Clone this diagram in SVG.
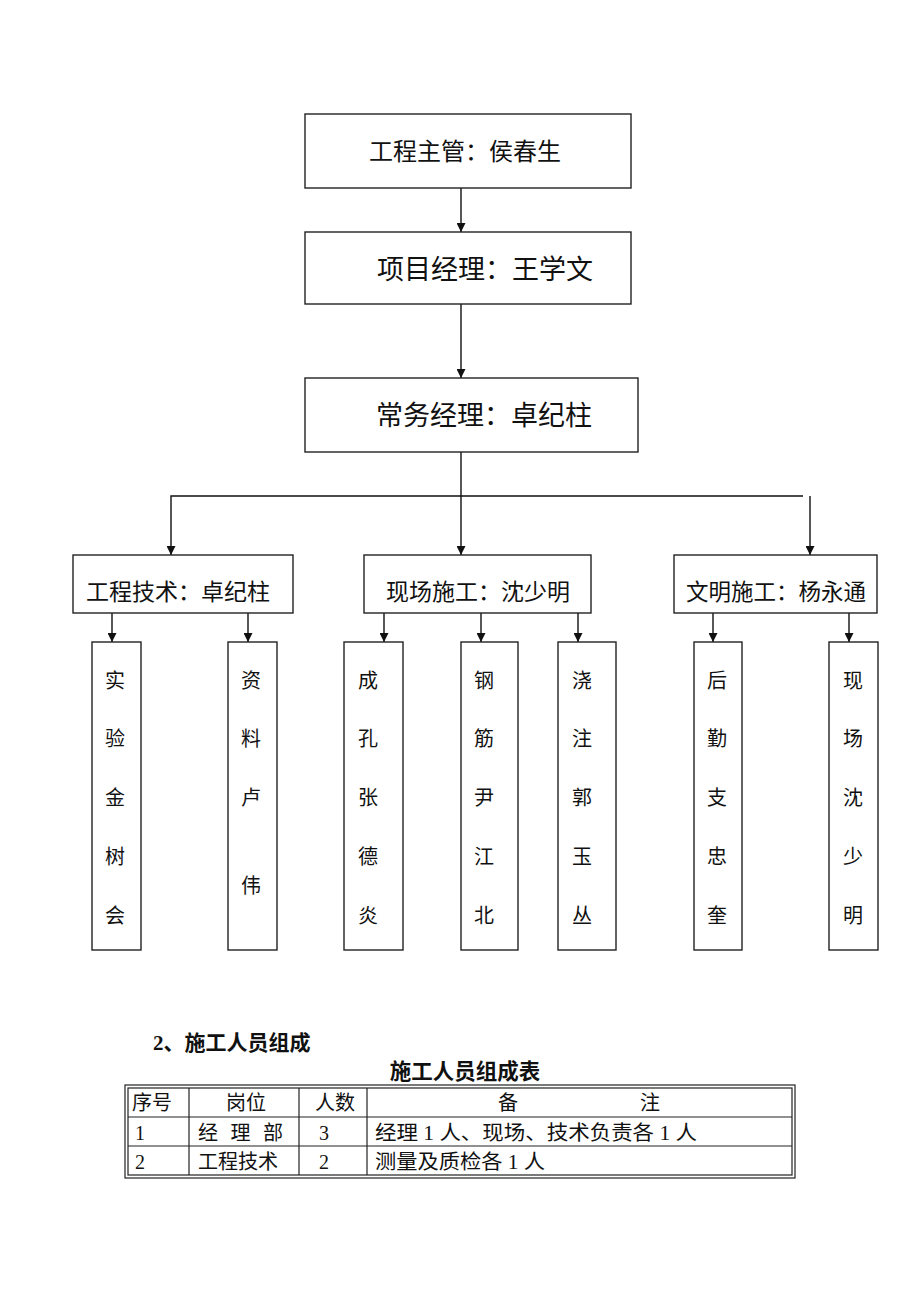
<svg xmlns="http://www.w3.org/2000/svg" width="920" height="1302" viewBox="0 0 920 1302">
<style>
.box{fill:#fff;stroke:#222;stroke-width:1.4}
.c{fill:none;stroke:#111;stroke-width:1.4}
.t{font-family:"Liberation Serif","Noto Sans CJK SC",serif;fill:#111;text-anchor:middle}
.v{font-family:"Liberation Serif","Noto Sans CJK SC",serif;fill:#111;text-anchor:middle;font-size:20px}
.tb{font-family:"Liberation Serif","Noto Sans CJK SC",serif;fill:#111;font-size:20px}
.hd{font-family:"Liberation Serif","Noto Sans CJK SC",serif;fill:#111;font-weight:bold}
.g{fill:none;stroke:#222;stroke-width:1.2}
</style>
<defs>
<marker id="ah" viewBox="0 0 10 10" refX="10" refY="5" markerWidth="10" markerHeight="9" markerUnits="userSpaceOnUse" orient="auto">
<path d="M0,0 L10,5 L0,10 z" fill="#111"/>
</marker>
</defs>
<rect width="920" height="1302" fill="#fff"/>
<g id="connectors">
<line class="c" x1="461" y1="188" x2="461" y2="232" marker-end="url(#ah)"/>
<line class="c" x1="461" y1="304" x2="461" y2="378" marker-end="url(#ah)"/>
<line class="c" x1="461" y1="452" x2="461" y2="555" marker-end="url(#ah)"/>
<polyline class="c" points="803,496 171,496 171,555" marker-end="url(#ah)"/>
<line class="c" x1="810" y1="496" x2="810" y2="555" marker-end="url(#ah)"/>
<line class="c" x1="112" y1="613" x2="112" y2="642" marker-end="url(#ah)"/>
<line class="c" x1="248" y1="613" x2="248" y2="642" marker-end="url(#ah)"/>
<line class="c" x1="384" y1="613" x2="384" y2="642" marker-end="url(#ah)"/>
<line class="c" x1="481" y1="613" x2="481" y2="642" marker-end="url(#ah)"/>
<line class="c" x1="578" y1="613" x2="578" y2="642" marker-end="url(#ah)"/>
<line class="c" x1="713" y1="613" x2="713" y2="642" marker-end="url(#ah)"/>
<line class="c" x1="849" y1="613" x2="849" y2="642" marker-end="url(#ah)"/>
</g>
<g id="n-zhuguan"><rect class="box" x="305" y="114" width="326" height="74"/><text class="t" x="465" y="160" font-size="24">工程主管：侯春生</text></g>
<g id="n-xiangmu"><rect class="box" x="305" y="232" width="326" height="72"/><text class="t" x="485" y="279" font-size="27">项目经理：王学文</text></g>
<g id="n-changwu"><rect class="box" x="305" y="378" width="333" height="74"/><text class="t" x="484" y="425" font-size="27">常务经理：卓纪柱</text></g>
<g id="n-jishu"><rect class="box" x="73" y="555" width="220" height="58"/><text class="t" x="178" y="600" font-size="23">工程技术：卓纪柱</text></g>
<g id="n-xianchang"><rect class="box" x="364" y="555" width="227" height="58"/><text class="t" x="478" y="600" font-size="23">现场施工：沈少明</text></g>
<g id="n-wenming"><rect class="box" x="674" y="555" width="203" height="58"/><text class="t" x="776" y="600" font-size="22.5">文明施工：杨永通</text></g>
<g id="n-shiyan"><rect class="box" x="92" y="642" width="49" height="308"/>
<text class="v" x="115" y="688">实</text><text class="v" x="115" y="746">验</text><text class="v" x="115" y="805">金</text><text class="v" x="115" y="864">树</text><text class="v" x="115" y="923">会</text></g>
<g id="n-ziliao"><rect class="box" x="228" y="642" width="49" height="308"/>
<text class="v" x="251" y="688">资</text><text class="v" x="251" y="746">料</text><text class="v" x="251" y="805">卢</text><text class="v" x="251" y="893">伟</text></g>
<g id="n-chengkong"><rect class="box" x="344" y="642" width="59" height="308"/>
<text class="v" x="368" y="688">成</text><text class="v" x="368" y="746">孔</text><text class="v" x="368" y="805">张</text><text class="v" x="368" y="864">德</text><text class="v" x="368" y="923">炎</text></g>
<g id="n-gangjin"><rect class="box" x="461" y="642" width="57" height="308"/>
<text class="v" x="484" y="688">钢</text><text class="v" x="484" y="746">筋</text><text class="v" x="484" y="805">尹</text><text class="v" x="484" y="864">江</text><text class="v" x="484" y="923">北</text></g>
<g id="n-jiaozhu"><rect class="box" x="558" y="642" width="58" height="308"/>
<text class="v" x="582" y="688">浇</text><text class="v" x="582" y="746">注</text><text class="v" x="582" y="805">郭</text><text class="v" x="582" y="864">玉</text><text class="v" x="582" y="923">丛</text></g>
<g id="n-houqin"><rect class="box" x="694" y="642" width="48" height="308"/>
<text class="v" x="717" y="688">后</text><text class="v" x="717" y="746">勤</text><text class="v" x="717" y="805">支</text><text class="v" x="717" y="864">忠</text><text class="v" x="717" y="923">奎</text></g>
<g id="n-xianchang2"><rect class="box" x="829" y="642" width="49" height="308"/>
<text class="v" x="853" y="688">现</text><text class="v" x="853" y="746">场</text><text class="v" x="853" y="805">沈</text><text class="v" x="853" y="864">少</text><text class="v" x="853" y="923">明</text></g>
<g id="table-section">
<text class="hd" x="153" y="1050" font-size="21">2、施工人员组成</text>
<text class="hd" x="465" y="1079" font-size="21.5" text-anchor="middle">施工人员组成表</text>
<rect class="g" x="125" y="1085" width="670" height="93"/>
<rect class="g" x="128" y="1088" width="664" height="87"/>
<line class="g" x1="189" y1="1088" x2="189" y2="1175"/>
<line class="g" x1="299" y1="1088" x2="299" y2="1175"/>
<line class="g" x1="367" y1="1088" x2="367" y2="1175"/>
<line class="g" x1="128" y1="1117" x2="792" y2="1117"/>
<line class="g" x1="128" y1="1146" x2="792" y2="1146"/>
<text class="tb" x="132" y="1110">序号</text>
<text class="tb" x="246" y="1110" text-anchor="middle">岗位</text>
<text class="tb" x="335" y="1110" text-anchor="middle">人数</text>
<text class="tb" x="508" y="1110" text-anchor="middle">备</text>
<text class="tb" x="650" y="1110" text-anchor="middle">注</text>
<text class="tb" x="135" y="1140">1</text>
<text class="tb" x="198" y="1140" textLength="85" lengthAdjust="spacing">经 理 部</text>
<text class="tb" x="319" y="1140">3</text>
<text class="tb" x="375" y="1140" textLength="322" lengthAdjust="spacingAndGlyphs">经理 1 人、现场、技术负责各 1 人</text>
<text class="tb" x="135" y="1169">2</text>
<text class="tb" x="198" y="1169">工程技术</text>
<text class="tb" x="319" y="1169">2</text>
<text class="tb" x="375" y="1169" textLength="170" lengthAdjust="spacingAndGlyphs">测量及质检各 1 人</text>
</g>
</svg>
